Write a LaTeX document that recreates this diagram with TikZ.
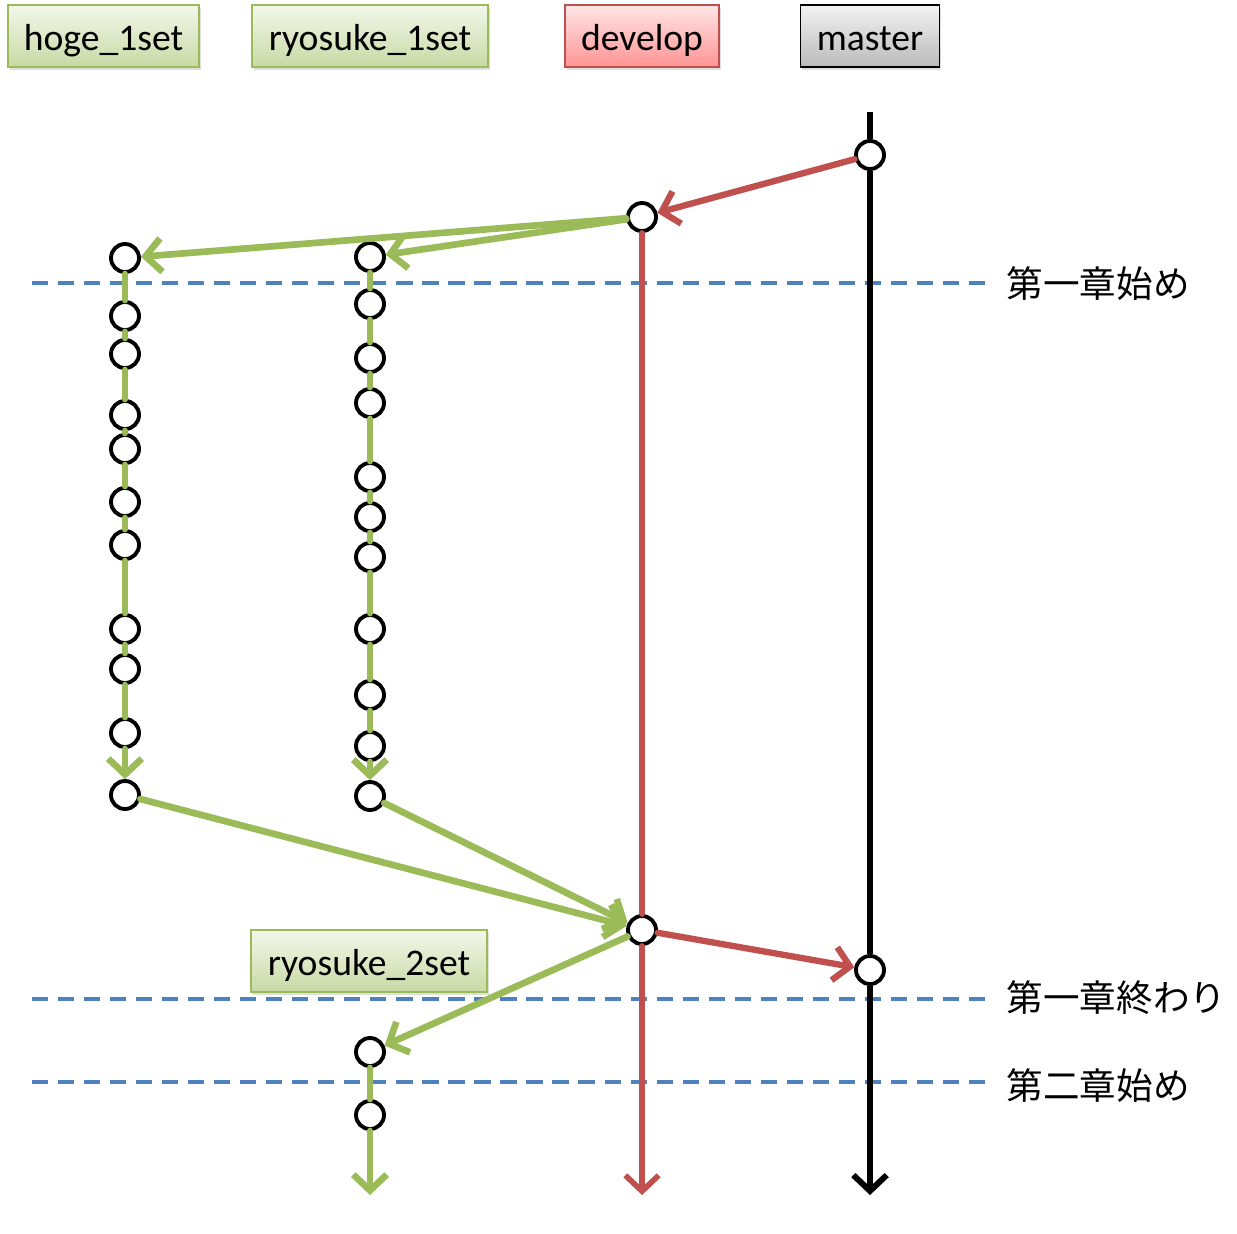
\documentclass[tikz,border=0pt]{standalone}
\usepackage{fontspec}
\setmainfont{Carlito}
\newfontfamily\jpfont{Noto Sans CJK JP}
\usetikzlibrary{arrows.meta, shadows}
\definecolor{gitgreen}{HTML}{9BBB59}
\definecolor{gitred}{HTML}{C0504D}
\definecolor{gitblue}{HTML}{4F81BD}

\begin{document}
\begin{tikzpicture}[x=0.01cm, y=-0.01cm,
    branch/.style = {shape=rectangle, draw, minimum height=0.62cm,
        inner sep=0pt, text height=10pt, text depth=1.6pt,
        font=\fontsize{10.7}{12}\selectfont,
        drop shadow={opacity=0.25, shadow xshift=0.5pt, shadow yshift=-0.8pt}},
    topic/.style = {branch, draw=gitgreen, top color=gitgreen!12, bottom color=gitgreen!55},
    devbox/.style = {branch, draw=gitred, top color=red!10, bottom color=red!42},
    mainbox/.style = {branch, draw=black, top color=black!5, bottom color=black!27},
    commit/.style = {circle, draw=black, line width=1.1pt, fill=white,
        minimum size=0.28cm, inner sep=0pt},
    tip/.style = {-{Straight Barb[length=4.5pt, width=9.5pt]}},
    greenline/.style = {draw=gitgreen, line width=1.9pt, line cap=round},
    redline/.style = {draw=gitred, line width=1.6pt, line cap=round},
    blackline/.style = {draw=black, line width=1.7pt},
    chapter/.style = {draw=gitblue, line width=1.2pt, dash pattern=on 4.6pt off 2.8pt},
    chaptext/.style = {anchor=west, inner sep=0pt, font=\jpfont\fontsize{10.4}{12}\selectfont}]

\useasboundingbox (0,0) rectangle (1237,1233);

% branch labels
\node[topic, minimum width=1.91cm] (hogebox) at (103.5,36) {hoge\_1set};
\node[topic, minimum width=2.36cm] (ryo1box) at (370,36) {ryosuke\_1set};
\node[devbox, minimum width=1.54cm] (devbox) at (642,36) {develop};
\node[mainbox, minimum width=1.39cm] (mainbox) at (870,36) {master};
\node[topic, minimum width=2.36cm] (ryo2box) at (369,961) {ryosuke\_2set};

% chapter marks
\draw[chapter] (32,283) -- (985,283);
\draw[chapter] (32,999) -- (985,999);
\draw[chapter] (32,1082) -- (985,1082);
\node[chaptext] (ch1start) at (1006,284) {第一章始め};
\node[chaptext] (ch1end) at (1006,998) {第一章終わり};
\node[chaptext] (ch2start) at (1006,1086) {第二章始め};

% commits
\node[commit] (m1) at (870,155) {};
\node[commit] (m2) at (870,970) {};
\node[commit] (d1) at (642,217) {};
\node[commit] (d2) at (642,930) {};
\foreach \y [count=\i] in {258,316,354,415,449,502,545,629,669,733,795}
    \node[commit] (h\i) at (125,\y) {};
\foreach \y [count=\i] in {257,304,358,403,477,517,557,629,695,746,796}
    \node[commit] (r\i) at (370,\y) {};
\node[commit] (s1) at (370,1052) {};
\node[commit] (s2) at (370,1115) {};
\coordinate (mtop) at (870,112);
\coordinate (mend) at (870,1195);
\coordinate (dend) at (642,1195);
\coordinate (send) at (370,1195);

% master and develop
\draw[blackline] (mtop) -- (m1);
\draw[blackline] (m1) -- (m2);
\draw[blackline, tip] (m2) -- (mend);
\draw[redline] (d1) -- (d2);
\draw[redline, tip] (d2) -- (dend);
\draw[redline, line width=1.8pt, tip] (m1) -- (d1);
\draw[redline, line width=1.8pt, tip] (d2) -- (m2);

% topic branches
\draw[greenline, tip] (d1) -- (h1);
\draw[greenline, tip] (d1) -- (r1);
\foreach \i [count=\j from 2] in {1,...,9} {
    \draw[greenline] (h\i) -- (h\j);
    \draw[greenline] (r\i) -- (r\j);
}
\draw[greenline, tip] (h10) -- (h11);
\draw[greenline, tip] (r10) -- (r11);
\draw[greenline, tip] (h11) -- (d2);
\draw[greenline, tip] (r11) -- (d2);
\draw[greenline, tip] (d2) -- (s1);
\draw[greenline] (s1) -- (s2);
\draw[greenline, tip] (s2) -- (send);
\end{tikzpicture}
\end{document}
